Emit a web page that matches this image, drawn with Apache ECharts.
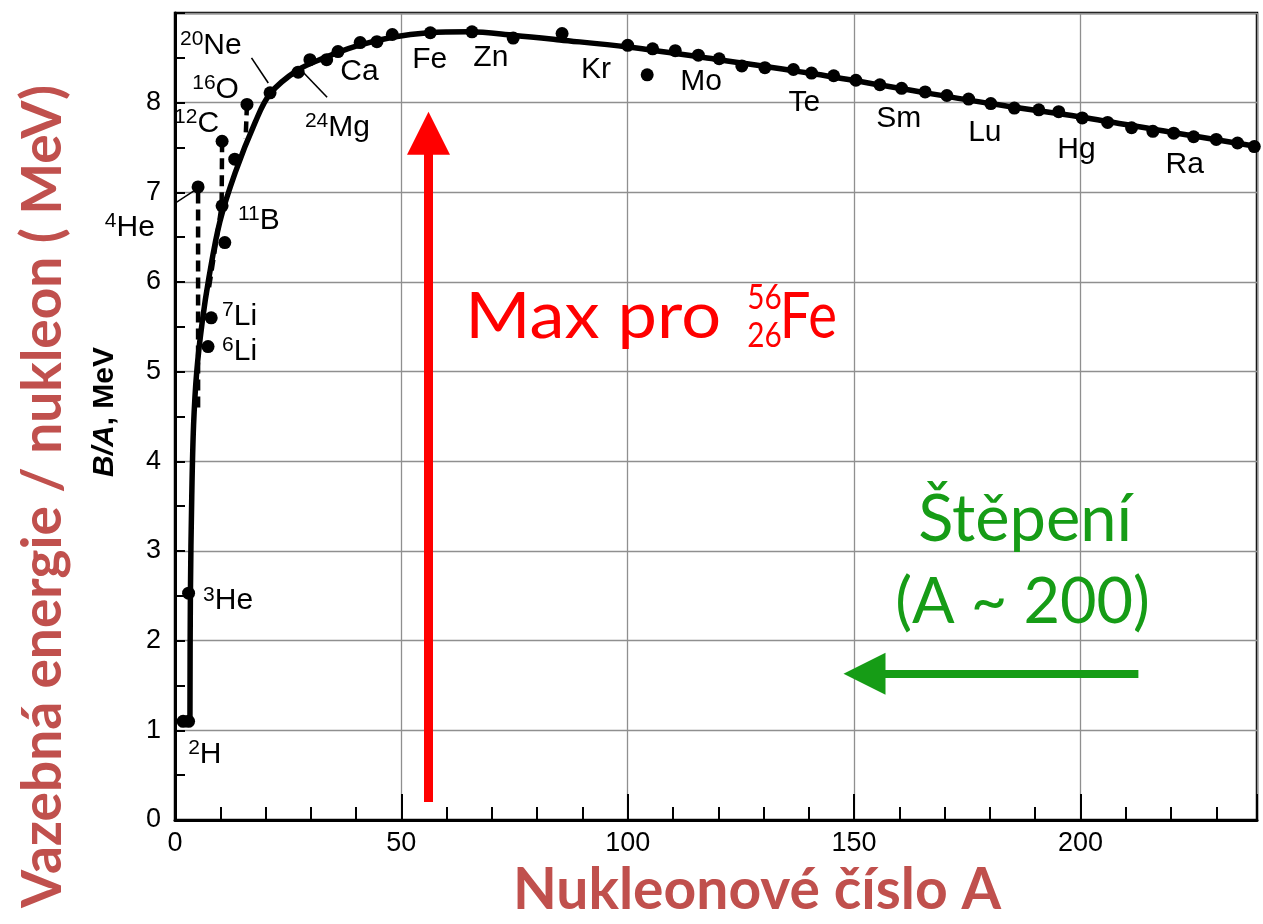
<!DOCTYPE html>
<html><head><meta charset="utf-8">
<script src="https://cdn.jsdelivr.net/npm/echarts/dist/echarts.min.js"></script>
<style>html,body{margin:0;padding:0;background:#fff}#c{width:1263px;height:924px}</style>
</head><body><div id="c"></div>
<script>
// ---- data ----
const xTickLabels = [0, 50, 100, 150, 200];
const yTickLabels = [0, 1, 2, 3, 4, 5, 6, 7, 8];

// smooth fitted curve (A, B/A)
const curveLine = [[3.3,1.09],[3.4,2.5],[3.7,3.6],[4.1,4.4],[4.8,5.0],[6.0,5.55],[7.5,6.05],[9.9,6.67],[13.3,7.22],[17.7,7.78],[21,8.1],[27,8.36],[33,8.5],[40,8.63],[48,8.73],[56,8.78],[65,8.79],[75,8.75],[85,8.7],[100,8.62],[120,8.48],[140,8.33],[160,8.16],[180,7.99],[200,7.84],[220,7.67],[238,7.52]];

// measured nuclides (dots)
const nuclideDots = [[1.8,1.1],[3.0,1.1],[3.0,2.53],[5.1,7.06],[7.3,5.28],[8.0,5.6],[11.0,6.44],[10.4,6.85],[10.4,7.57],[13.2,7.37],[15.9,7.98],[21,8.11],
 [27.2,8.34],[29.8,8.48],[33.5,8.48],[36,8.57],[40.9,8.67],[44.6,8.68],[48,8.76],[56.4,8.78],[65.6,8.79],[74.7,8.72],[85.5,8.77],[100,8.64],[104.3,8.31],
 [105.5,8.6],[110.5,8.58],[115.6,8.53],[120.2,8.49],[125.2,8.41],[130.3,8.39],[136.6,8.37],[140.6,8.33],[145.5,8.3],[150.4,8.25],[155.7,8.2],[160.5,8.16],
 [165.7,8.12],[170.5,8.08],[175.3,8.04],[180.2,7.99],[185.4,7.94],[190.8,7.92],[195.2,7.9],[200.4,7.83],[206,7.78],[211.3,7.72],[216,7.68],[220.6,7.66],
 [225,7.62],[230,7.59],[234.7,7.55],[238.4,7.51]];

// dashed light-nuclei segments
const dashedSegA = [[5.1,4.6],[5.1,7.06]];
const dashedSegB = [[10.4,7.57],[10.3,6.85],[7.4,5.9]];
const dashedSegC = [[15.9,7.98],[15.6,7.6]];

// leader lines of labels
const leaderNe = [[16.9,8.5],[20.6,8.22]];
const leaderMg = [[28.3,8.34],[33.6,8.06]];
const leaderHe = [[-6.0,6.68],[4.6,7.03]];

// element labels: superscript, symbol, [A of left edge, B/A of middle]
const labelSup = ['20','16','12','4','11','7','6','3','2','24','','','','','','','','','',''];
const labelSym = ['Ne','O','C','He','B','Li','Li','He','H','Mg','Ca','Fe','Zn','Kr','Mo','Te','Sm','Lu','Hg','Ra'];
const labelAt = [[1.1,8.64],[3.8,8.14],[-0.2,7.76],[-15.5,6.61],[13.9,6.68],[10.4,5.61],[10.4,5.22],[6.2,2.44],[2.9,0.73],[28.7,7.72],
 [36.5,8.34],[52.4,8.48],[65.9,8.5],[89.7,8.37],[111.6,8.23],[135.5,8.0],[154.9,7.82],[175.2,7.67],[194.9,7.47],[218.8,7.31]];

// annotations
const feArrow = [[56,0.2],[56,7.66]];
const fissionArrow = [[212.8,1.63],[152.3,1.63]];
const maxTextAt = [64.1,5.61];
const massAt = [126.4,5.83];
const chargeAt = [126.4,5.4];
const feTextAt = [133.6,5.61];
const fissionTextAt = [187.8,3.34];
const fissionRangeAt = [187.2,2.42];

const chart = echarts.init(document.getElementById('c'));
const AX = 'Liberation Sans';
const dashedSeries = [dashedSegA, dashedSegB, dashedSegC].map(d => ({
  type:'line', data:d, symbol:'none', z:3,
  lineStyle:{color:'#000', width:4.5, type:[11,6]}
}));
const leaderSeries = [leaderNe, leaderMg, leaderHe].map(d => ({
  type:'line', data:d, symbol:'none', clip:false, z:3,
  lineStyle:{color:'#000', width:1.6}
}));

chart.setOption({
  animation:false,
  backgroundColor:'#fff',
  grid:{left:175, right:6, top:13, bottom:101, show:true, borderColor:'#000', borderWidth:2.5, z:0},
  xAxis:[{
    type:'value', min:0, max:239, interval:50,
    axisLine:{lineStyle:{color:'#000', width:3}},
    axisTick:{inside:true, length:26, lineStyle:{color:'#000', width:2}},
    axisLabel:{color:'#000', fontFamily:AX, fontSize:27, margin:10,
      formatter: v => xTickLabels.includes(v) ? String(v) : ''},
    splitLine:{show:true, lineStyle:{color:'#8f8f8f', width:1.3}},
    name:'Nukleonové číslo A', nameLocation:'middle', nameGap:42,
    nameTextStyle:{color:'#c0504d', fontFamily:'Lato', fontWeight:'bold', fontSize:57, padding:[0,0,0,82]}
  },{
    type:'value', min:0, max:239, interval:10, position:'bottom',
    axisLine:{show:false},
    axisTick:{inside:true, length:13, lineStyle:{color:'#000', width:2}},
    axisLabel:{show:false}, splitLine:{show:false}
  }],
  yAxis:{
    type:'value', min:0, max:9, interval:1,
    axisLine:{lineStyle:{color:'#000', width:3}},
    axisTick:{inside:true, length:10, lineStyle:{color:'#000', width:2}},
    minorTick:{show:true, splitNumber:2, length:10, lineStyle:{color:'#000', width:2}},
    axisLabel:{color:'#000', fontFamily:AX, fontSize:27, margin:14,
      formatter: v => yTickLabels.includes(v) ? String(v) : ''},
    splitLine:{show:true, lineStyle:{color:'#8f8f8f', width:1.3}},
    name:'Vazebná energie / nukleon ( MeV)', nameLocation:'middle', nameGap:104,
    nameTextStyle:{color:'#c0504d', fontFamily:'Lato', fontWeight:'bold', fontSize:55, padding:[0,160,0,0]}
  },
  series:[
    {type:'line', data:curveLine, smooth:0.35, symbol:'none', z:4,
     lineStyle:{color:'#000', width:5.5}},
    {type:'scatter', data:nuclideDots, symbolSize:13, z:5, itemStyle:{color:'#000', opacity:1}},
    ...dashedSeries,
    ...leaderSeries,
    {type:'lines', coordinateSystem:'cartesian2d', z:6, symbol:['none','triangle'], symbolSize:[47,43],
     lineStyle:{color:'#ff0000', width:9, opacity:1}, itemStyle:{color:'#ff0000'},
     data:[{coords:feArrow}]},
    {type:'lines', coordinateSystem:'cartesian2d', z:6, symbol:['none','triangle'], symbolSize:[40,42],
     lineStyle:{color:'#169c16', width:8, opacity:1}, itemStyle:{color:'#169c16'},
     data:[{coords:fissionArrow}]}
  ]
});

function px(p){ return chart.convertToPixel({xAxisIndex:0, yAxisIndex:0}, p); }
const graphics = [];
labelSym.forEach((s,i) => {
  const p = px(labelAt[i]);
  const sup = labelSup[i];
  graphics.push({type:'text', x:p[0], y:p[1], z:10,
    style:{text:(sup ? '{s|'+sup+'}' : '') + '{m|'+s+'}', align:'left', verticalAlign:'middle',
      rich:{s:{fontFamily:AX, fontSize:21, fill:'#000', verticalAlign:'top', lineHeight:34},
            m:{fontFamily:AX, fontSize:30, fill:'#000', lineHeight:34}}}});
});
// B/A, MeV inner axis label
graphics.push({type:'text', x:105, y:412, rotation:Math.PI/2, z:10,
  style:{text:'{i|B/A}{n|, MeV}', align:'center', verticalAlign:'middle',
    rich:{i:{fontFamily:AX, fontSize:30, fontStyle:'italic', fontWeight:'bold', fill:'#000'},
          n:{fontFamily:AX, fontSize:30, fontWeight:'bold', fill:'#000'}}}});
let p = px(maxTextAt);
graphics.push({type:'text', x:p[0], y:p[1], scaleX:1.1, z:10, style:{text:'Max pro', font:'64px Lato', fill:'#ff0000', align:'left', verticalAlign:'middle'}});
p = px(massAt);
graphics.push({type:'text', x:p[0], y:p[1], scaleX:0.85, z:10, style:{text:'56', font:'35px Lato', fill:'#ff0000', align:'left', verticalAlign:'middle'}});
p = px(chargeAt);
graphics.push({type:'text', x:p[0], y:p[1], scaleX:0.85, z:10, style:{text:'26', font:'35px Lato', fill:'#ff0000', align:'left', verticalAlign:'middle'}});
p = px(feTextAt);
graphics.push({type:'text', x:p[0], y:p[1], scaleX:0.85, z:10, style:{text:'Fe', font:'64px Lato', fill:'#ff0000', align:'left', verticalAlign:'middle'}});
p = px(fissionTextAt);
graphics.push({type:'text', x:p[0], y:p[1], z:10, style:{text:'Štěpení', font:'65px Lato', fill:'#169c16', align:'center', verticalAlign:'middle'}});
p = px(fissionRangeAt);
graphics.push({type:'text', x:p[0], y:p[1], z:10, style:{text:'(A ~ 200)', font:'63px Lato', fill:'#169c16', align:'center', verticalAlign:'middle'}});
chart.setOption({graphic:graphics});
</script></body></html>
